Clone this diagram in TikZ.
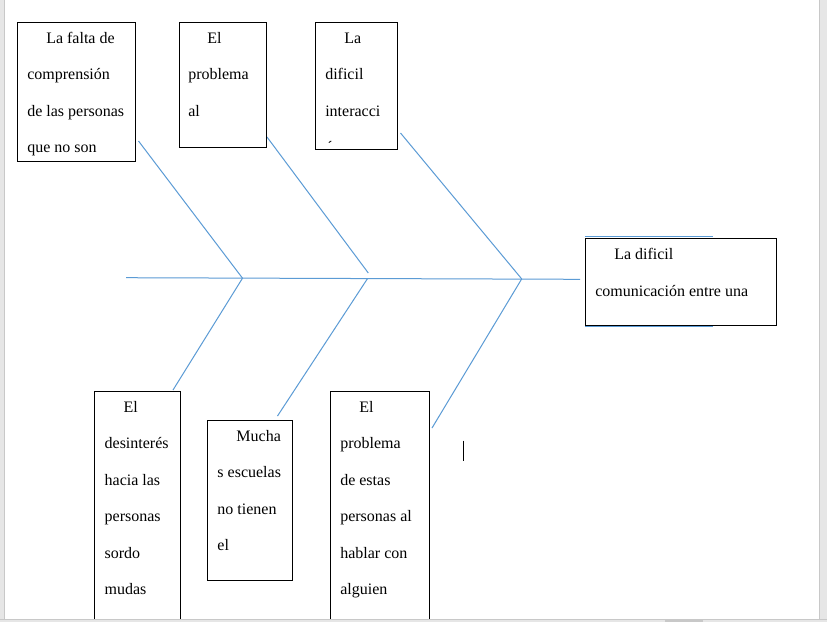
\documentclass[tikz,border=0pt]{standalone}
\usepackage{fontspec}
\setmainfont{Liberation Serif}
\usetikzlibrary{fit}
\definecolor{boneblue}{RGB}{91,155,213}
\definecolor{pagegray}{RGB}{230,230,230}
\definecolor{edgegray}{RGB}{200,200,200}
\newcommand{\boxlines}[2][27.4]{\parbox[t]{200pt}{\raggedright\fontsize{12}{#1}\selectfont #2}}

\begin{document}
\begin{tikzpicture}[x=0.75pt, y=-0.75pt,
        causebox/.style={draw, fill=white, line width=0.75pt, inner sep=0pt, outer sep=0pt},
        boxtext/.style={anchor=base west, inner sep=0pt},
        bone/.style={draw=boneblue, line width=0.75pt}]
    \useasboundingbox (0,0) rectangle (827,622);
    \fill[white] (0,0) rectangle (827,622);

    % spine and joints
    \coordinate (tail) at (126,277.7);
    \coordinate (head) at (580,279.3);
    \coordinate (j1) at (242.5,278.2);
    \coordinate (j2) at (367.5,278.6);
    \coordinate (j3) at (521.7,278.9);
    \coordinate (u1) at (138.5,141);
    \coordinate (u2) at (267,137);
    \coordinate (m2) at (368.3,273);
    \coordinate (u3) at (400.5,133);
    \coordinate (d1) at (173,390);
    \coordinate (d2) at (277.5,416);
    \coordinate (d3) at (432,428);

    \draw[bone] (tail) -- (head);
    \draw[bone] (j1) edge (u1) edge (d1);
    \draw[bone] (u2) -- (m2);
    \draw[bone] (j2) edge (d2);
    \draw[bone] (j3) edge (u3) edge (d3);

    % top causes
    \node[causebox, fit={(17.3,22.7) (135.7,161)}] (c1) {};
    \node[boxtext] (tc1) at ([shift={(9.7,20.6)}]c1.north west)
        {\boxlines{\hspace*{14.25pt}La falta de\\comprensión\\de las personas\\que no son}};
    \node[causebox, fit={(179,22.7) (266.7,147.3)}] (c2) {};
    \node[boxtext] (tc2) at ([shift={(9,20.6)}]c2.north west)
        {\boxlines{\hspace*{14.25pt}El\\problema\\al}};
    \node[causebox, fit={(315,22.7) (397.7,149)}] (c3) {};
    \begin{scope}
        \clip ([shift={(1,-1)}]c3.north west) rectangle ([shift={(-1,-6.5)}]c3.south east);
        \node[boxtext] (tc3) at ([shift={(10,20.6)}]c3.north west)
            {\boxlines{\hspace*{14.25pt}La\\dificil\\interacci\\ón}};
    \end{scope}

    % effect
    \node[causebox, fit={(585,238.7) (776.7,325.3)}] (ef) {};
    \draw[bone] ([shift={(0,-2)}]ef.north west) -- ++(128,0);
    \draw[bone] ([shift={(0,1)}]ef.south west) -- ++(128,0);
    \node[boxtext] (tef) at ([shift={(10,20.3)}]ef.north west)
        {\boxlines[28]{\hspace*{14.25pt}La dificil\\comunicación entre una}};

    % bottom causes
    \node[causebox, fit={(94.7,391.7) (180.3,619)}] (b1) {};
    \node[boxtext] (tb1) at ([shift={(9.7,20.6)}]b1.north west)
        {\boxlines{\hspace*{14.25pt}El\\desinterés\\hacia las\\personas\\sordo\\mudas}};
    \node[causebox, fit={(207.7,420.7) (292.3,580.3)}] (b2) {};
    \node[boxtext] (tb2) at ([shift={(9.5,20.6)}]b2.north west)
        {\boxlines{\hspace*{14.25pt}Mucha\\s escuelas\\no tienen\\el}};
    \node[causebox, fit={(330.3,391.7) (429.3,619)}] (b3) {};
    \node[boxtext] (tb3) at ([shift={(9.7,20.6)}]b3.north west)
        {\boxlines{\hspace*{14.25pt}El\\problema\\de estas\\personas al\\hablar con\\alguien}};

    % text cursor
    \draw[line width=0.9pt] (463.3,440.7) -- (463.3,460.7);

    % window frame
    \fill[pagegray] (0,0) rectangle (4.3,622);
    \draw[edgegray, line width=0.75pt] (4.7,0) -- (4.7,619);
    \fill[pagegray] (819.5,0) rectangle (827,622);
    \draw[edgegray, line width=0.75pt] (819.2,0) -- (819.2,619);
    \fill[pagegray] (0,619.5) rectangle (827,622);
    \draw[edgegray, line width=0.75pt] (0,619.2) -- (827,619.2);
    \fill[edgegray] (665,620) rectangle (703,622);
\end{tikzpicture}
\end{document}
